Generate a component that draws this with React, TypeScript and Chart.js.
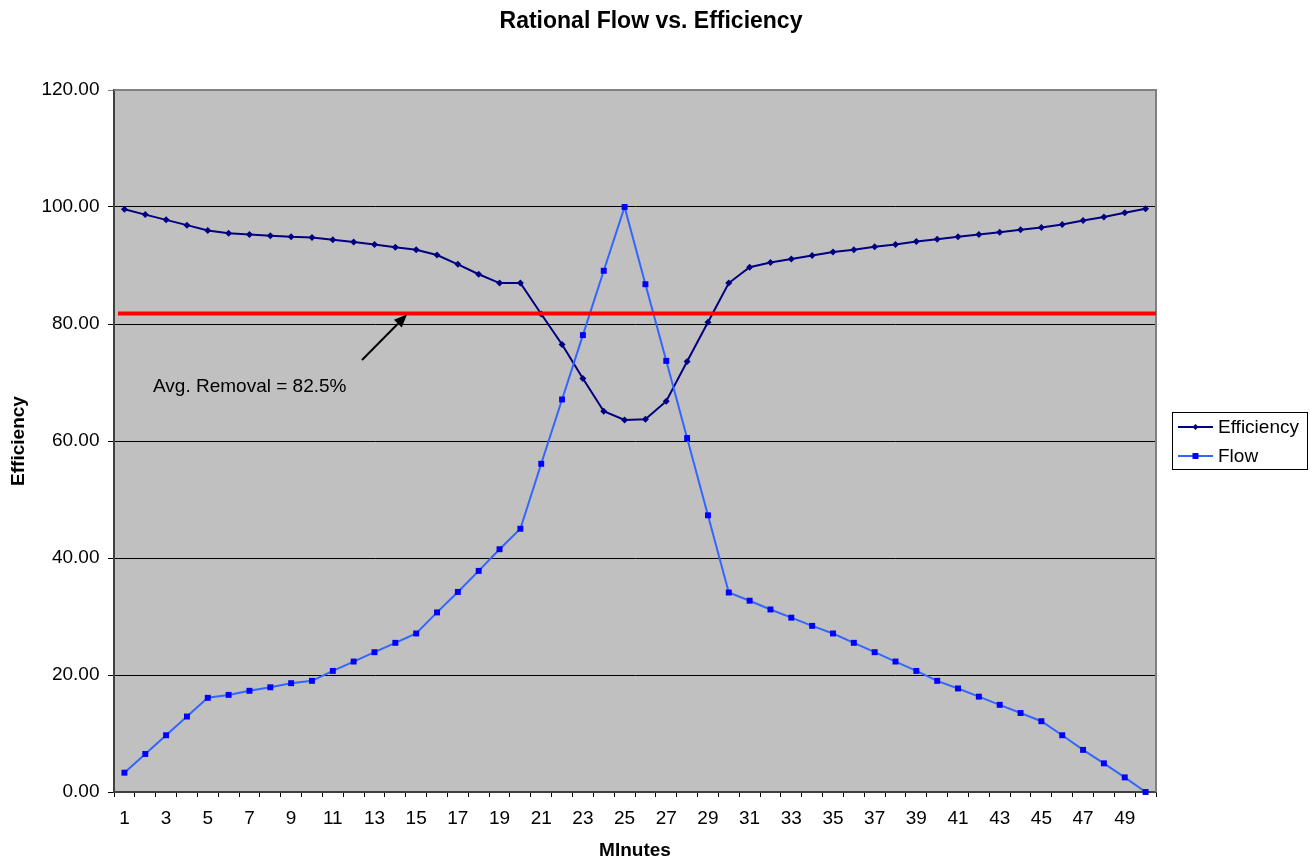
import React, { useEffect, useRef } from 'react';
import { Chart, registerables } from 'chart.js';

Chart.register(...registerables);

const FONT = '"Liberation Sans", Arial, Helvetica, sans-serif';

const chartTitle = 'Rational Flow vs. Efficiency';
const yAxisTitle = 'Efficiency';
const xAxisTitle = 'MInutes';
const annotationText = 'Avg. Removal = 82.5%';
const seriesNames = ['Efficiency', 'Flow'];

const minutes = [
  '1', '2', '3', '4', '5', '6', '7', '8', '9', '10',
  '11', '12', '13', '14', '15', '16', '17', '18', '19', '20',
  '21', '22', '23', '24', '25', '26', '27', '28', '29', '30',
  '31', '32', '33', '34', '35', '36', '37', '38', '39', '40',
  '41', '42', '43', '44', '45', '46', '47', '48', '49', '50',
];

const efficiency = [
  99.6, 98.7, 97.8, 96.9, 96.0, 95.5, 95.3, 95.1, 94.9, 94.8,
  94.4, 94.0, 93.6, 93.1, 92.7, 91.8, 90.2, 88.5, 87.0, 87.0,
  81.7, 76.5, 70.7, 65.1, 63.6, 63.7, 66.8, 73.6, 80.3, 87.0,
  89.7, 90.5, 91.1, 91.7, 92.3, 92.7, 93.2, 93.6, 94.1, 94.5,
  94.9, 95.3, 95.7, 96.1, 96.5, 97.0, 97.7, 98.3, 99.0, 99.7,
];

const flow = [
  3.3, 6.5, 9.7, 12.9, 16.1, 16.6, 17.3, 17.9, 18.6, 19.0,
  20.7, 22.3, 23.9, 25.5, 27.1, 30.7, 34.2, 37.8, 41.5, 45.0,
  56.1, 67.1, 78.1, 89.1, 100.0, 86.8, 73.7, 60.5, 47.3, 34.1,
  32.7, 31.2, 29.8, 28.4, 27.1, 25.5, 23.9, 22.3, 20.7, 19.0,
  17.7, 16.3, 14.9, 13.5, 12.1, 9.7, 7.2, 4.9, 2.5, 0.0,
];

const avgRemovalLevel = [81.8];
const yRange = [0, 120, 20];

const EFF_COLOR = '#000080';
const FLOW_LINE = '#3366FF';
const FLOW_MARK = '#0000FF';

const decorPlugin = {
  id: 'decor',
  beforeDraw(chart: any) {
    const { ctx, chartArea: a } = chart;
    ctx.save();
    ctx.fillStyle = '#ffffff';
    ctx.fillRect(0, 0, chart.width, chart.height);
    ctx.fillStyle = '#C0C0C0';
    ctx.fillRect(a.left, a.top, a.right - a.left, a.bottom - a.top);
    ctx.restore();
  },
  beforeDatasetsDraw(chart: any) {
    const { ctx, chartArea: a } = chart;
    ctx.save();
    ctx.strokeStyle = '#808080';
    ctx.lineWidth = 2;
    ctx.beginPath();
    ctx.moveTo(a.left, a.top);
    ctx.lineTo(a.right, a.top);
    ctx.lineTo(a.right, a.bottom);
    ctx.stroke();
    ctx.restore();
  },
  afterDatasetsDraw(chart: any) {
    const { ctx, chartArea: a } = chart;
    const yS = chart.scales.y;
    ctx.save();
    // average removal line
    const yAvg = yS.getPixelForValue(avgRemovalLevel[0]);
    ctx.strokeStyle = '#FF0000';
    ctx.lineWidth = 4;
    ctx.beginPath();
    ctx.moveTo(a.left + 4, yAvg);
    ctx.lineTo(a.right, yAvg);
    ctx.stroke();

    // arrow
    const x0 = 362, y0 = 360, x1 = 407, y1 = yAvg + 1;
    const ang = Math.atan2(y1 - y0, x1 - x0);
    const hl = 13, hw = 5.5;
    const bx = x1 - hl * Math.cos(ang), by = y1 - hl * Math.sin(ang);
    ctx.strokeStyle = '#000';
    ctx.fillStyle = '#000';
    ctx.lineWidth = 2;
    ctx.beginPath();
    ctx.moveTo(x0, y0);
    ctx.lineTo(bx, by);
    ctx.stroke();
    ctx.beginPath();
    ctx.moveTo(x1, y1);
    ctx.lineTo(bx + hw * Math.sin(ang), by - hw * Math.cos(ang));
    ctx.lineTo(bx - hw * Math.sin(ang), by + hw * Math.cos(ang));
    ctx.closePath();
    ctx.fill();

    // annotation text
    ctx.font = `19px ${FONT}`;
    ctx.textBaseline = 'middle';
    ctx.textAlign = 'left';
    ctx.fillText(annotationText, 153, 387);

    // title
    ctx.font = `bold 23px ${FONT}`;
    ctx.textAlign = 'center';
    ctx.fillText(chartTitle, 651, 22);

    // legend
    const lx = 1172, ly = 412, lw = 135, lh = 57;
    ctx.fillStyle = '#ffffff';
    ctx.fillRect(lx, ly, lw, lh);
    ctx.strokeStyle = '#000';
    ctx.lineWidth = 1;
    ctx.strokeRect(lx + 0.5, ly + 0.5, lw, lh);
    const rows = [
      { name: seriesNames[0], y: 427, line: EFF_COLOR, mark: EFF_COLOR, shape: 'diamond' },
      { name: seriesNames[1], y: 456, line: FLOW_LINE, mark: FLOW_MARK, shape: 'square' },
    ];
    rows.forEach((r) => {
      ctx.strokeStyle = r.line;
      ctx.lineWidth = 2;
      ctx.beginPath();
      ctx.moveTo(1178, r.y);
      ctx.lineTo(1213, r.y);
      ctx.stroke();
      ctx.fillStyle = r.mark;
      if (r.shape === 'diamond') {
        ctx.beginPath();
        ctx.moveTo(1195.5, r.y - 3);
        ctx.lineTo(1198.5, r.y);
        ctx.lineTo(1195.5, r.y + 3);
        ctx.lineTo(1192.5, r.y);
        ctx.closePath();
        ctx.fill();
      } else {
        ctx.fillRect(1192.5, r.y - 3, 6, 6);
      }
      ctx.fillStyle = '#000';
      ctx.font = `19px ${FONT}`;
      ctx.textAlign = 'left';
      ctx.textBaseline = 'middle';
      ctx.fillText(r.name, 1218, r.y + 1);
    });
    ctx.restore();
  },
};

export default function App() {
  const canvasRef = useRef<HTMLCanvasElement | null>(null);

  useEffect(() => {
    const canvas = canvasRef.current;
    if (!canvas) return;
    const chart = new Chart(canvas, {
      type: 'line',
      data: {
        labels: minutes,
        datasets: [
          {
            label: seriesNames[0],
            data: efficiency,
            borderColor: EFF_COLOR,
            backgroundColor: EFF_COLOR,
            borderWidth: 2,
            pointStyle: 'rectRot',
            pointRadius: 3.5,
            pointBorderWidth: 0,
            pointBackgroundColor: EFF_COLOR,
            tension: 0,
            clip: false,
            order: 2,
          } as any,
          {
            label: seriesNames[1],
            data: flow,
            borderColor: FLOW_LINE,
            backgroundColor: FLOW_MARK,
            borderWidth: 2,
            pointStyle: 'rect',
            pointRadius: 4.2,
            pointBorderWidth: 0,
            pointBackgroundColor: FLOW_MARK,
            tension: 0,
            clip: false,
            order: 1,
          } as any,
        ],
      },
      options: {
        animation: false,
        responsive: false,
        maintainAspectRatio: false,
        events: [],
        layout: { padding: { left: 0, right: 154, top: 90, bottom: 0 } },
        plugins: {
          legend: { display: false },
          title: { display: false },
          tooltip: { enabled: false },
        },
        scales: {
          x: {
            type: 'category',
            offset: true,
            afterFit: (scale: any) => {
              scale.height = 70;
            },
            grid: {
              display: true,
              drawOnChartArea: false,
              drawTicks: true,
              tickLength: 5,
              offset: true,
              color: '#000',
              lineWidth: 1,
            },
            border: { display: true, color: '#404040', width: 2 },
            ticks: {
              autoSkip: false,
              maxRotation: 0,
              minRotation: 0,
              padding: 10.5,
              color: '#000',
              font: { family: FONT, size: 19 },
              callback: (_v: any, i: number) => (i % 2 === 0 ? minutes[i] : ''),
            },
            title: {
              display: true,
              text: xAxisTitle,
              color: '#000',
              font: { family: FONT, size: 19, weight: 'bold' },
              padding: { top: 0, bottom: 0 },
            },
          },
          y: {
            min: yRange[0],
            max: yRange[1],
            afterFit: (scale: any) => {
              scale.width = 114;
            },
            grid: {
              color: (c: any) => (c.tick && c.tick.value === yRange[1] ? '#808080' : '#000'),
              lineWidth: 1,
              tickLength: 6,
              drawTicks: true,
            },
            border: { display: true, color: '#404040', width: 2 },
            ticks: {
              stepSize: yRange[2],
              padding: 8.5,
              color: '#000',
              font: { family: FONT, size: 19 },
              callback: (v: any) => Number(v).toFixed(2),
            },
            title: {
              display: true,
              text: yAxisTitle,
              color: '#000',
              font: { family: FONT, size: 19, weight: 'bold' },
              padding: { top: 7.5, bottom: 0 },
            },
          },
        },
      } as any,
      plugins: [decorPlugin],
    });
    return () => chart.destroy();
  }, []);

  return (
    <div style={{ position: 'fixed', left: 0, top: 0, width: 1310, height: 862, background: '#fff' }}>
      <canvas ref={canvasRef} width={1310} height={862} style={{ display: 'block', width: 1310, height: 862 }} />
    </div>
  );
}
